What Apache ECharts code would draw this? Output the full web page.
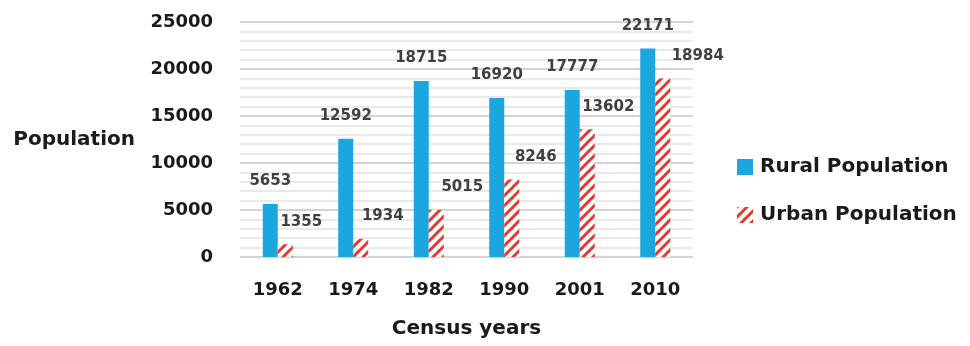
<!DOCTYPE html>
<html>
<head>
<meta charset="utf-8">
<script src="https://cdn.jsdelivr.net/npm/echarts@6/dist/echarts.min.js"></script>
<style>
  html, body { margin: 0; padding: 0; background: #fff; }
  #chart { width: 970px; height: 346px; }
</style>
</head>
<body>
<div id="chart"></div>
<script>
// Census population by year
const censusYears = ['1962', '1974', '1982', '1990', '2001', '2010'];
const ruralPopulation = [5653, 12592, 18715, 16920, 17777, 22171];
const urbanPopulation = [1355, 1934, 5015, 8246, 13602, 18984];
const yTicks = { min: 0, max: 25000, interval: 5000 };

// horizontal nudges for the urban value labels
const urbanLabelShift = [16, 22, 26, 24, 21, 35];

const FONT = 'DejaVu Sans';
const BLUE = '#1ba6e0';
const RED = '#e8352f';

// diagonal red hatch used for the urban bars
function hatchPattern() {
  const s = 10;
  const c = document.createElement('canvas');
  c.width = s; c.height = s;
  const g = c.getContext('2d');
  g.fillStyle = '#fff';
  g.fillRect(0, 0, s, s);
  g.strokeStyle = RED;
  g.lineWidth = 3;
  for (let k = -1; k <= 1; k++) {
    g.beginPath();
    g.moveTo(k * s - 1, s + 1);
    g.lineTo(k * s + s + 1, -1);
    g.stroke();
  }
  return { image: c, repeat: 'repeat' };
}

const chart = echarts.init(document.getElementById('chart'), null, { renderer: 'canvas' });

const labelBase = {
  show: true,
  position: 'top',
  distance: 15,
  fontFamily: FONT,
  fontWeight: 'bold',
  fontSize: 15,
  color: '#404040'
};

chart.setOption({
  animation: false,
  backgroundColor: '#fff',
  grid: { left: 240, right: 277, top: 22, bottom: 89 },
  legend: {
    orient: 'vertical',
    left: 732,
    top: 152,
    icon: 'rect',
    itemWidth: 16,
    itemHeight: 16,
    itemGap: 28,
    textStyle: { fontFamily: FONT, fontWeight: 'bold', fontSize: 20, color: '#1a1a1a', padding: [0, 0, 0, 2] },
    data: ['Rural Population', 'Urban Population']
  },
  xAxis: {
    type: 'category',
    data: censusYears,
    name: 'Census years',
    nameLocation: 'middle',
    nameGap: 62,
    nameTextStyle: { fontFamily: FONT, fontWeight: 'bold', fontSize: 20, color: '#1a1a1a' },
    axisLine: { show: false },
    axisTick: { show: false },
    axisLabel: { margin: 24, fontFamily: FONT, fontWeight: 'bold', fontSize: 18, color: '#1a1a1a' }
  },
  yAxis: {
    type: 'value',
    min: yTicks.min,
    max: yTicks.max,
    interval: yTicks.interval,
    name: 'Population',
    nameLocation: 'middle',
    nameRotate: 0,
    nameGap: 105,
    nameTextStyle: { fontFamily: FONT, fontWeight: 'bold', fontSize: 20, color: '#1a1a1a' },
    axisLine: { show: false },
    axisTick: { show: false },
    axisLabel: {
      margin: 27, fontFamily: FONT, fontWeight: 'bold', fontSize: 18, color: '#1a1a1a',
      formatter: v => String(v)
    },
    splitLine: { lineStyle: { color: '#c4c4c4', width: 1.5 } },
    minorTick: { show: false, splitNumber: 5 },
    minorSplitLine: { show: true, lineStyle: { color: '#e2e2e2', width: 1.5 } }
  },
  series: [
    {
      name: 'Rural Population',
      type: 'bar',
      data: ruralPopulation,
      barWidth: 15,
      barGap: '0%',
      itemStyle: { color: BLUE },
      label: labelBase
    },
    {
      name: 'Urban Population',
      type: 'bar',
      data: urbanPopulation.map((v, i) => ({
        value: v,
        label: { offset: [urbanLabelShift[i], 0] }
      })),
      barWidth: 15,
      barGap: '0%',
      itemStyle: { color: hatchPattern() },
      label: labelBase
    }
  ]
});
</script>
</body>
</html>
